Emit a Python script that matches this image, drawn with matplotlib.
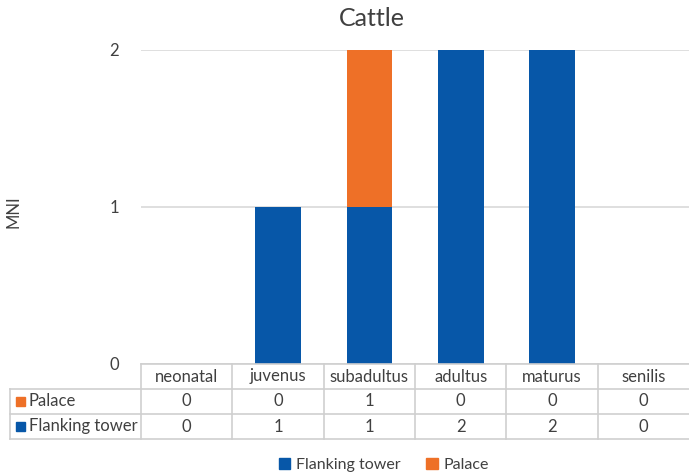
import matplotlib
matplotlib.use("Agg")
import matplotlib.pyplot as plt
from matplotlib.patches import Rectangle
from matplotlib.lines import Line2D
import numpy as np

categories = ["neonatal", "juvenus", "subadultus", "adultus", "maturus", "senilis"]
flanking = [0, 1, 1, 2, 2, 0]
palace = [0, 0, 1, 0, 0, 0]
series_names = ["Flanking tower", "Palace"]
colors = {"Flanking tower": "#0757A8", "Palace": "#EE7027"}
yticks = [0, 1, 2]

plt.rcParams['font.family'] = ['Lato', 'DejaVu Sans']
W, H = 689, 472
fig = plt.figure(figsize=(W / 100, H / 100), dpi=100)

def fx(px):
    return px / W

def fy(py):
    return 1 - py / H

ax_left, ax_right = 141, 689
ax_top, ax_bot = 49.5, 364
ax = fig.add_axes([fx(ax_left), fy(ax_bot), fx(ax_right) - fx(ax_left), fy(ax_top) - fy(ax_bot)])
x = np.arange(len(categories))
ax.bar(x, flanking, width=0.5, color=colors["Flanking tower"], zorder=3)
ax.bar(x, palace, width=0.5, bottom=flanking, color=colors["Palace"], zorder=3)
ax.set_xlim(-0.5, len(categories) - 0.5)
ax.set_ylim(0, 2)
ax.set_yticks(yticks)
ax.set_yticklabels([str(v) for v in yticks], fontsize=12, color="#404040")
ax.tick_params(axis='y', length=0, pad=16)
ax.set_xticks([])
ax.yaxis.grid(True, color="#D9D9D9", linewidth=1.2, zorder=0)
for s in ax.spines.values():
    s.set_visible(False)

fig.text(fx(372), fy(18), "Cattle", ha="center", va="center", fontsize=18, color="#404040")
fig.text(fx(13), fy(212), "MNI", ha="center", va="center", rotation=90, fontsize=12, color="#404040")

# data table
line_col = "#CFCFCF"
row_y = [364, 389, 414, 439]
tleft = 10
col_edges = [ax_left + (ax_right - ax_left) * i / len(categories) for i in range(len(categories) + 1)]
for i, yy in enumerate(row_y):
    x0 = ax_left if i == 0 else tleft
    fig.add_artist(Line2D([fx(x0), fx(ax_right)], [fy(yy), fy(yy)], color=line_col, lw=1.2))
for xe in col_edges[:-1]:
    fig.add_artist(Line2D([fx(xe), fx(xe)], [fy(row_y[0]), fy(row_y[-1])], color=line_col, lw=1.2))
fig.add_artist(Line2D([fx(tleft), fx(tleft)], [fy(row_y[1]), fy(row_y[-1])], color=line_col, lw=1.2))

tcol = "#404040"
for j, c in enumerate(categories):
    cx = (col_edges[j] + col_edges[j + 1]) / 2
    fig.text(fx(cx), fy((row_y[0] + row_y[1]) / 2), c, ha="center", va="center", fontsize=12, color=tcol)
rows = [("Palace", palace), ("Flanking tower", flanking)]
for r, (name, vals) in enumerate(rows):
    cy = (row_y[r + 1] + row_y[r + 2]) / 2
    fig.add_artist(Rectangle((fx(tleft + 6), fy(cy + 4.5)), fx(9), fy(0) - fy(9), color=colors[name]))
    fig.text(fx(tleft + 19), fy(cy), name, ha="left", va="center", fontsize=12, color=tcol)
    for j, v in enumerate(vals):
        cx = (col_edges[j] + col_edges[j + 1]) / 2
        fig.text(fx(cx), fy(cy), str(v), ha="center", va="center", fontsize=12, color=tcol)

handles = [Rectangle((0, 0), 1, 1, color=colors[n]) for n in series_names]
fig.legend(handles, series_names, loc="center", bbox_to_anchor=(fx(384), fy(465)), ncol=2,
           frameon=False, fontsize=11.5, handlelength=0.7, handleheight=0.7, handletextpad=0.4,
           columnspacing=1.6, labelcolor=tcol)

fig.savefig("out.png", dpi=100)
